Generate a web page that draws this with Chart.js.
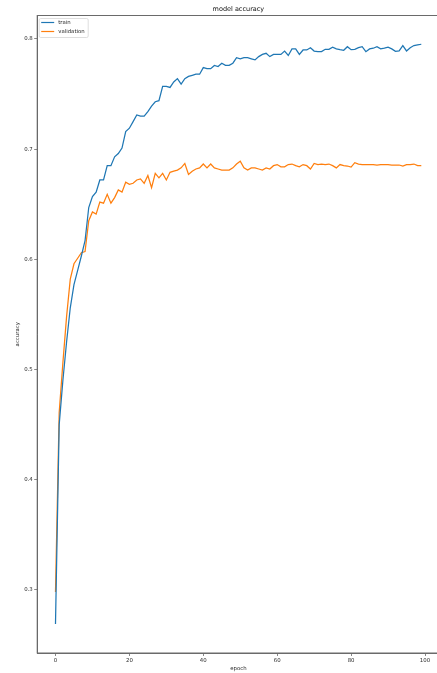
<!DOCTYPE html>
<html>
<head>
<meta charset="utf-8">
<title>model accuracy</title>
<script src="https://cdn.jsdelivr.net/npm/chart.js@4/dist/chart.umd.min.js"></script>
<style>
  html, body { margin: 0; padding: 0; background: #fff; overflow: hidden; }
  canvas { display: block; }
</style>
</head>
<body>
<canvas id="acc" width="441" height="673"></canvas>
<script>
// Training history: accuracy per epoch
const epochs = [
  0,1,2,3,4,5,6,7,8,9,10,11,12,13,14,15,16,17,18,19,
  20,21,22,23,24,25,26,27,28,29,30,31,32,33,34,35,36,37,38,39,
  40,41,42,43,44,45,46,47,48,49,50,51,52,53,54,55,56,57,58,59,
  60,61,62,63,64,65,66,67,68,69,70,71,72,73,74,75,76,77,78,79,
  80,81,82,83,84,85,86,87,88,89,90,91,92,93,94,95,96,97,98,99
];

const trainAcc = [
  0.269,0.450,0.490,0.525,0.556,0.577,0.590,0.603,0.617,0.647,
  0.657,0.661,0.672,0.672,0.685,0.685,0.693,0.696,0.701,0.716,
  0.719,0.725,0.731,0.730,0.730,0.734,0.739,0.743,0.744,0.757,
  0.757,0.756,0.761,0.764,0.759,0.764,0.766,0.767,0.768,0.768,
  0.774,0.773,0.773,0.776,0.775,0.778,0.776,0.776,0.778,0.783,
  0.782,0.783,0.783,0.782,0.781,0.784,0.786,0.787,0.784,0.786,
  0.786,0.786,0.789,0.785,0.791,0.791,0.786,0.790,0.790,0.792,
  0.789,0.7885,0.7885,0.7906,0.7906,0.7925,0.791,0.7903,0.7897,0.793,
  0.7903,0.7906,0.7921,0.793,0.7885,0.791,0.7916,0.793,0.791,0.7916,
  0.7925,0.791,0.7888,0.7891,0.794,0.7891,0.7921,0.794,0.7946,0.7952
];

const valAcc = [
  0.298,0.461,0.506,0.548,0.582,0.596,0.601,0.606,0.607,0.635,
  0.643,0.641,0.652,0.651,0.659,0.651,0.656,0.663,0.661,0.670,
  0.668,0.669,0.672,0.673,0.669,0.676,0.665,0.678,0.674,0.678,
  0.672,0.679,0.680,0.681,0.683,0.687,0.677,0.680,0.682,0.683,
  0.6865,0.683,0.6865,0.683,0.682,0.681,0.681,0.681,0.683,0.6865,
  0.689,0.683,0.681,0.683,0.683,0.682,0.681,0.683,0.682,0.685,
  0.686,0.684,0.684,0.686,0.6865,0.685,0.684,0.686,0.685,0.682,
  0.687,0.686,0.6865,0.686,0.6865,0.685,0.683,0.686,0.685,0.6847,
  0.6837,0.6877,0.6865,0.686,0.686,0.686,0.686,0.6856,0.686,0.686,
  0.686,0.6856,0.6856,0.6856,0.6847,0.686,0.686,0.6865,0.685,0.685
];

const seriesNames = ['train', 'validation'];
const xTickValues = [0, 20, 40, 60, 80, 100];
const yTickValues = [0.3, 0.4, 0.5, 0.6, 0.7, 0.8];

const FONT = 'DejaVu Sans';
const BLUE = '#1f77b4';
const ORANGE = '#ff7f0e';
const SPINE = '#6a6a6a';
const TEXT = '#2a2a2a';

// Full rectangular frame around the plotting area
const frame = {
  id: 'frame',
  afterDatasetsDraw(chart) {
    const { ctx, chartArea: a } = chart;
    ctx.save();
    ctx.strokeStyle = SPINE;
    ctx.lineWidth = 1;
    ctx.strokeRect(a.left, a.top, a.right - a.left, a.bottom - a.top);
    ctx.restore();
  }
};

// Boxed legend in the upper-left corner of the plotting area
const boxLegend = {
  id: 'boxLegend',
  afterDraw(chart) {
    const { ctx, chartArea: a } = chart;
    const x = a.left + 2, y = a.top + 3, w = 49, h = 19, r = 1.5;
    ctx.save();
    ctx.beginPath();
    ctx.roundRect(x, y, w, h, r);
    ctx.fillStyle = 'rgba(255,255,255,0.8)';
    ctx.fill();
    ctx.strokeStyle = '#d6d6d6';
    ctx.lineWidth = 0.8;
    ctx.stroke();
    ctx.font = '5.4px "' + FONT + '"';
    ctx.textBaseline = 'middle';
    chart.data.datasets.forEach((ds, i) => {
      const ly = y + 4 + i * 9;
      ctx.strokeStyle = ds.borderColor;
      ctx.lineWidth = 1.2;
      ctx.beginPath();
      ctx.moveTo(x + 2, ly);
      ctx.lineTo(x + 15, ly);
      ctx.stroke();
      ctx.fillStyle = TEXT;
      ctx.fillText(ds.label, x + 19, ly);
    });
    ctx.restore();
  }
};

new Chart(document.getElementById('acc'), {
  type: 'line',
  data: {
    datasets: [
      {
        label: seriesNames[0],
        data: epochs.map((e, i) => ({ x: e, y: trainAcc[i] })),
        borderColor: BLUE,
        borderWidth: 1.25,
        pointRadius: 0,
        tension: 0,
        fill: false
      },
      {
        label: seriesNames[1],
        data: epochs.map((e, i) => ({ x: e, y: valAcc[i] })),
        borderColor: ORANGE,
        borderWidth: 1.25,
        pointRadius: 0,
        tension: 0,
        fill: false
      }
    ]
  },
  options: {
    responsive: false,
    animation: false,
    devicePixelRatio: 1,
    layout: { padding: { left: 0, right: 1.4, top: 0, bottom: 0 } },
    plugins: {
      legend: { display: false },
      tooltip: { enabled: false },
      title: {
        display: true,
        text: 'model accuracy',
        fullSize: false,
        color: '#111',
        font: { family: FONT, size: 6.5, weight: 'normal' },
        padding: { top: 5.5, bottom: 2.2 }
      }
    },
    scales: {
      x: {
        type: 'linear',
        min: -4.95,
        max: 103.95,
        afterFit(scale) { scale.height = 20; },
        afterBuildTicks(scale) { scale.ticks = xTickValues.map(v => ({ value: v })); },
        grid: { drawOnChartArea: false, drawTicks: true, tickLength: 3, color: SPINE, lineWidth: 0.8 },
        border: { display: true, color: SPINE, width: 1 },
        ticks: {
          color: TEXT,
          font: { family: FONT, size: 5.4 },
          padding: 1.2,
          maxRotation: 0,
          autoSkip: false,
          callback: v => String(v)
        },
        title: {
          display: true,
          text: 'epoch',
          color: TEXT,
          font: { family: FONT, size: 5.4 },
          padding: { top: 0, bottom: 1.4 }
        }
      },
      y: {
        type: 'linear',
        min: 0.2427,
        max: 0.8213,
        afterFit(scale) { scale.width = 37.2; },
        afterBuildTicks(scale) { scale.ticks = yTickValues.map(v => ({ value: v })); },
        grid: { drawOnChartArea: false, drawTicks: true, tickLength: 3, color: SPINE, lineWidth: 0.8 },
        border: { display: true, color: SPINE, width: 1 },
        ticks: {
          color: TEXT,
          font: { family: FONT, size: 5.4 },
          padding: 1.5,
          autoSkip: false,
          callback: v => v.toFixed(1)
        },
        title: {
          display: true,
          text: 'accuracy',
          color: TEXT,
          font: { family: FONT, size: 5.4 },
          padding: { top: 14.7, bottom: 0 }
        }
      }
    }
  },
  plugins: [frame, boxLegend]
});
</script>
</body>
</html>
